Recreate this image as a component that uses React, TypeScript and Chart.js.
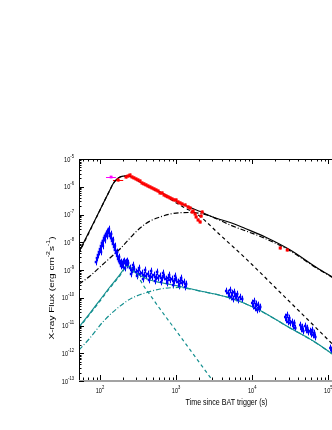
import React, { useEffect, useRef } from "react";
import { Chart, registerables } from "chart.js";
Chart.register(...registerables);

const X_MIN = 53;
const X_MAX = 398000;
const Y_MIN = 1e-13;
const Y_MAX = 1e-5;

const xDecades = [2, 3, 4, 5];
const yDecades = [-5, -6, -7, -8, -9, -10, -11, -12, -13];

// Model curves (time s, flux erg cm^-2 s^-1)
const blackSolidT = [53, 86, 116, 135, 148, 162, 178, 201, 226, 256, 298, 336, 455, 615, 834, 1129, 1528, 2069, 2799, 3793, 5136, 8091, 14830, 31620, 71640, 113000, 403000];
const blackSolidF = [4.46e-9, 6.34e-8, 3.33e-7, 7.64e-7, 1.26e-6, 1.75e-6, 2.15e-6, 2.4e-6, 2.44e-6, 2.29e-6, 1.9e-6, 1.48e-6, 9.8e-7, 6.47e-7, 4.1e-7, 2.6e-7, 1.79e-7, 1.28e-7, 8.8e-8, 6.6e-8, 5.15e-8, 3.13e-8, 1.55e-8, 5.26e-9, 1.18e-9, 5.6e-10, 7.0e-11];

const blackDashT = [53, 86, 116, 135, 148, 162, 178, 201, 226, 256, 298, 336, 455, 615, 834, 1236, 1946, 3793, 8091, 23360, 106300, 403000];
const blackDashF = [4.1e-9, 6.1e-8, 3.3e-7, 7.6e-7, 1.25e-6, 1.74e-6, 2.14e-6, 2.39e-6, 2.42e-6, 2.27e-6, 1.87e-6, 1.44e-6, 9.4e-7, 5.96e-7, 3.62e-7, 1.86e-7, 9.6e-8, 1.82e-8, 2.7e-9, 1.55e-10, 2.54e-12, 6.6e-14];

const blackDotDashT = [53, 74, 100, 135, 183, 248, 336, 455, 615, 834, 1129, 1528, 2069, 2799, 5136, 14830, 31620, 71640, 113000, 403000];
const blackDotDashF = [3.13e-10, 6.1e-10, 1.28e-9, 2.7e-9, 5.7e-9, 1.42e-8, 3.27e-8, 5.83e-8, 8.13e-8, 1.04e-7, 1.16e-7, 1.18e-7, 1.09e-7, 8.8e-8, 4.19e-8, 1.36e-8, 4.84e-9, 1.13e-9, 5.4e-10, 6.8e-11];

const tealSolidT = [53, 74, 100, 135, 173, 201, 220, 226, 241, 264, 298, 368, 455, 615, 834, 1129, 2069, 5136, 11640, 31620, 63510, 113000, 403000];
const tealSolidF = [8.8e-12, 2.82e-11, 8.3e-11, 2.44e-10, 5.6e-10, 1.0e-9, 1.39e-9, 1.45e-9, 1.39e-9, 1.09e-9, 7.8e-10, 5.6e-10, 4.37e-10, 3.55e-10, 3.0e-10, 2.54e-10, 1.75e-10, 9.8e-11, 3.94e-11, 8.1e-12, 2.76e-12, 9.4e-13, 7.2e-14];

const tealDashT = [53, 100, 135, 173, 201, 220, 226, 241, 264, 298, 336, 391, 455, 615, 1030, 1674, 2976, 5136];
const tealDashF = [8.1e-12, 7.6e-11, 2.24e-10, 5.15e-10, 9.2e-10, 1.28e-9, 1.33e-9, 1.28e-9, 1.0e-9, 6.6e-10, 4.37e-10, 2.24e-10, 1.26e-10, 3.94e-11, 5.8e-12, 9.4e-13, 1.09e-13, 1.36e-14];

const tealDotDashT = [53, 74, 109, 183, 264, 391, 615, 1063, 2069, 5136, 11640, 31620, 63510, 113000, 403000];
const tealDotDashF = [1.31e-12, 3.55e-12, 1.34e-11, 5.0e-11, 9.8e-11, 1.48e-10, 2.07e-10, 2.34e-10, 1.73e-10, 9.7e-11, 3.88e-11, 8.0e-12, 2.72e-12, 9.3e-13, 7.1e-14];

// Red data
const redT = [220, 234, 248, 264, 280, 298, 316, 336, 357, 379, 403, 428, 455, 483, 514, 546, 580, 615, 655, 695, 739, 785, 834, 886, 942, 1000, 1063, 1129, 1200, 1313, 1439, 1528, 1624, 1674, 1778, 1833, 1946, 2069, 2133, 2198, 23360, 28880];
const redF = [2.24e-6, 2.44e-6, 2.65e-6, 2.24e-6, 2.07e-6, 1.9e-6, 1.75e-6, 1.61e-6, 1.36e-6, 1.26e-6, 1.16e-6, 1.06e-6, 9.8e-7, 9.0e-7, 8.3e-7, 7.64e-7, 7.0e-7, 5.96e-7, 5.96e-7, 5.05e-7, 4.65e-7, 4.28e-7, 3.94e-7, 3.62e-7, 3.33e-7, 3.33e-7, 2.82e-7, 2.6e-7, 2.39e-7, 2.2e-7, 1.86e-7, 1.71e-7, 1.23e-7, 1.34e-7, 1.04e-7, 8.13e-8, 6.34e-8, 5.37e-8, 8.8e-8, 1.23e-7, 6.21e-9, 5.26e-9];
const redEarlyT = [173];
const redEarlyTLo = [148];
const redEarlyTHi = [202];
const redEarlyF = [1.75e-6];

// Magenta point
const magT = [140];
const magTLo = [120];
const magTHi = [162];
const magF = [2.24e-6];

// Blue data
const blueT = [
  88.6, 91.3, 94.1, 97.0, 100, 103, 106, 109, 113, 116, 120, 124, 127, 131, 135, 140, 144, 148, 153, 157, 162, 168, 173, 178, 183, 189, 195, 201, 207, 213, 220, 226, 234,
  103, 109, 116, 124, 131, 140, 148, 157, 168, 178, 189, 201, 213, 226,
  248, 264, 280, 298, 316, 336, 357, 379, 403, 428, 455, 483, 514, 546, 580, 615, 655, 695, 739, 785, 834, 886, 942, 1000, 1063, 1129, 1200, 1274, 1354,
  256, 307, 368, 441, 529, 635, 762, 914, 1094, 1313,
  272, 326, 391, 469, 562, 674, 809, 970, 1164,
  4550, 4832, 4977, 5136, 5295, 5458, 5623, 5800, 5970, 6155, 6350, 6546, 6950, 7380,
  10000, 10310, 10620, 10940, 11290, 11640, 11990, 12360, 12740,
  27170, 28000, 28880, 29780, 30690, 31620,
  33600, 34590, 35700, 36790,
  42840, 44160, 45520, 46900,
  49800, 51400, 52920, 54600,
  57940, 59700, 61500, 63510, 65400, 67450,
  106300, 109400,
];
const blueF = [
  1.94e-9, 2.7e-9, 3.48e-9, 4.46e-9, 5.7e-9, 7.33e-9, 9.4e-9, 1.11e-8, 1.42e-8, 1.68e-8, 1.98e-8, 2.34e-8, 2.54e-8, 2.15e-8, 1.68e-8, 1.42e-8, 1.11e-8, 8.65e-9, 6.75e-9, 5.26e-9, 4.1e-9, 3.2e-9, 2.49e-9, 2.11e-9, 1.79e-9, 1.94e-9, 1.64e-9, 1.94e-9, 2.11e-9, 1.79e-9, 1.94e-9, 1.51e-9, 1.79e-9,
  4.46e-9, 7.33e-9, 1.2e-8, 1.68e-8, 3.0e-8, 1.98e-8, 1.2e-8, 7.33e-9, 4.46e-9, 2.94e-9, 1.39e-9, 1.28e-9, 1.18e-9, 2.11e-9,
  1.18e-9, 1.0e-9, 1.09e-9, 8.5e-10, 9.2e-10, 7.2e-10, 7.8e-10, 6.6e-10, 6.1e-10, 7.2e-10, 6.1e-10, 5.6e-10, 6.6e-10, 5.6e-10, 5.15e-10, 6.1e-10, 5.15e-10, 5.6e-10, 4.74e-10, 5.15e-10, 4.37e-10, 4.74e-10, 4.02e-10, 4.37e-10, 3.7e-10, 4.02e-10, 3.4e-10, 3.7e-10, 3.13e-10,
  7.2e-10, 6.1e-10, 4.74e-10, 4.37e-10, 4.02e-10, 3.7e-10, 3.4e-10, 2.88e-10, 2.65e-10, 2.44e-10,
  1.51e-9, 1.18e-9, 1.0e-9, 9.2e-10, 8.5e-10, 7.8e-10, 6.6e-10, 6.1e-10, 5.15e-10,
  1.75e-10, 1.48e-10, 1.16e-10, 1.9e-10, 1.06e-10, 1.48e-10, 9.0e-11, 1.61e-10, 1.16e-10, 9.8e-11, 1.36e-10, 8.3e-11, 1.06e-10, 9.0e-11,
  6.5e-11, 5.0e-11, 7.6e-11, 4.28e-11, 6.0e-11, 3.62e-11, 5.5e-11, 3.94e-11, 4.65e-11,
  2.02e-11, 1.58e-11, 2.39e-11, 1.34e-11, 1.86e-11, 1.23e-11,
  1.34e-11, 9.6e-12, 1.23e-11, 8.1e-12,
  1.04e-11, 7.5e-12, 8.8e-12, 6.3e-12,
  9.6e-12, 6.9e-12, 8.1e-12, 5.8e-12,
  6.3e-12, 4.9e-12, 6.9e-12, 4.55e-12, 5.37e-12, 3.85e-12,
  1.55e-12, 1.31e-12,
];
const blueErrFactor = 1.32;
const redErrFactor = 1.12;

const FONT = "'Liberation Sans', Arial, Helvetica, sans-serif";
const TEAL = "#138f8f";
const SX = 0.75; // horizontal squeeze of all text in the reference

const pts = (t: number[], f: number[]) => t.map((x, i) => ({ x, y: f[i] }));

const errorBarPlugin = {
  id: "errorBars",
  beforeDatasetsDraw(chart: any) {
    const { ctx, chartArea: a, scales } = chart;
    const xs = scales.x;
    const ys = scales.y;
    ctx.save();
    ctx.beginPath();
    ctx.rect(a.left, a.top, a.right - a.left, a.bottom - a.top);
    ctx.clip();
    chart.data.datasets.forEach((ds: any) => {
      const e = ds.errorBars;
      if (!e) return;
      ctx.strokeStyle = ds.backgroundColor;
      ctx.lineWidth = 1;
      ds.data.forEach((p: any, i: number) => {
        const px = Math.round(xs.getPixelForValue(p.x)) + 0.5;
        const py = ys.getPixelForValue(p.y);
        ctx.beginPath();
        if (e.yFactor) {
          ctx.moveTo(px, ys.getPixelForValue(p.y * e.yFactor));
          ctx.lineTo(px, ys.getPixelForValue(p.y / e.yFactor));
        }
        if (e.xLo && e.xHi) {
          ctx.moveTo(xs.getPixelForValue(e.xLo[i]), Math.round(py) + 0.5);
          ctx.lineTo(xs.getPixelForValue(e.xHi[i]), Math.round(py) + 0.5);
        }
        ctx.stroke();
      });
    });
    ctx.restore();
  },
};

function squeezedText(ctx: any, text: string, x: number, y: number, font: string, align: string) {
  ctx.save();
  ctx.font = font;
  const w = ctx.measureText(text).width * SX;
  let left = x;
  if (align === "center") left = x - w / 2;
  else if (align === "right") left = x - w;
  ctx.translate(left, y);
  ctx.scale(SX, 1);
  ctx.textAlign = "left";
  ctx.fillText(text, 0, 0);
  ctx.restore();
  return w;
}

function widthOf(ctx: any, text: string, font: string) {
  ctx.save();
  ctx.font = font;
  const w = ctx.measureText(text).width * SX;
  ctx.restore();
  return w;
}

const axisPlugin = {
  id: "axisFrame",
  afterDraw(chart: any) {
    const { ctx, chartArea: a, scales } = chart;
    const xs = scales.x;
    const ys = scales.y;
    ctx.save();
    // frame
    ctx.strokeStyle = "#000";
    ctx.lineWidth = 1;
    ctx.beginPath();
    ctx.moveTo(a.left + 0.5, a.bottom);
    ctx.lineTo(a.left + 0.5, a.top + 0.5);
    ctx.lineTo(a.right - 0.5, a.top + 0.5);
    ctx.lineTo(a.right - 0.5, a.bottom);
    ctx.stroke();
    ctx.strokeStyle = "#a3a3a3";
    ctx.lineWidth = 2;
    ctx.beginPath();
    ctx.moveTo(a.left, a.bottom);
    ctx.lineTo(a.right, a.bottom);
    ctx.stroke();

    // x ticks
    ctx.strokeStyle = "#000";
    ctx.lineWidth = 1;
    for (let d = 1; d <= 5; d++) {
      for (let m = 1; m <= 9; m++) {
        const v = m * Math.pow(10, d);
        if (v < X_MIN || v > X_MAX) continue;
        const px = Math.round(xs.getPixelForValue(v)) + 0.5;
        const len = m === 1 ? 5 : 2.5;
        ctx.beginPath();
        ctx.moveTo(px, a.bottom - 1);
        ctx.lineTo(px, a.bottom - 1 - len);
        ctx.moveTo(px, a.top);
        ctx.lineTo(px, a.top + len);
        ctx.stroke();
      }
    }
    // y ticks
    for (let d = -13; d <= -5; d++) {
      for (let m = 1; m <= 9; m++) {
        const v = m * Math.pow(10, d);
        if (v < Y_MIN * 0.999 || v > Y_MAX * 1.001) continue;
        const py = Math.round(ys.getPixelForValue(v)) + 0.5;
        const len = m === 1 ? 5 : 2.5;
        ctx.beginPath();
        ctx.moveTo(a.left, py);
        ctx.lineTo(a.left + len, py);
        ctx.moveTo(a.right, py);
        ctx.lineTo(a.right - len, py);
        ctx.stroke();
      }
    }

    // tick labels
    ctx.fillStyle = "#000";
    ctx.textBaseline = "middle";
    const baseFont = `7.5px ${FONT}`;
    const supFont = `5.5px ${FONT}`;
    yDecades.forEach((e) => {
      const py = ys.getPixelForValue(Math.pow(10, e));
      const exp = String(e);
      const ew = widthOf(ctx, exp, supFont);
      const right = 74;
      squeezedText(ctx, "10", right - ew, py + 0.5, baseFont, "right");
      squeezedText(ctx, exp, right - ew, py - 3, supFont, "left");
    });
    xDecades.forEach((e) => {
      const px = xs.getPixelForValue(Math.pow(10, e));
      const exp = String(e);
      const ew = widthOf(ctx, exp, supFont);
      const bw = widthOf(ctx, "10", baseFont);
      const start = px - (bw + ew) / 2;
      squeezedText(ctx, "10", start, 391, baseFont, "left");
      squeezedText(ctx, exp, start + bw, 387.5, supFont, "left");
    });

    // axis titles
    ctx.textBaseline = "alphabetic";
    squeezedText(ctx, "Time since BAT trigger (s)", (a.left + 374) / 2, 405, `9.5px ${FONT}`, "center");

    const segs: [string, boolean][] = [
      ["X-ray Flux (erg cm", false],
      ["-2", true],
      ["s", false],
      ["-1", true],
      [")", false],
    ];
    const mainF = `10px ${FONT}`;
    const supF = `7px ${FONT}`;
    let total = 0;
    segs.forEach(([t, s]) => {
      ctx.font = s ? supF : mainF;
      total += ctx.measureText(t).width;
    });
    ctx.save();
    ctx.translate(53.5, 288 + total / 2);
    ctx.scale(SX, 1);
    ctx.rotate(-Math.PI / 2);
    ctx.textAlign = "left";
    let x = 0;
    segs.forEach(([t, s]) => {
      ctx.font = s ? supF : mainF;
      ctx.fillText(t, x, s ? -5 : 0);
      x += ctx.measureText(t).width;
    });
    ctx.restore();
    ctx.restore();
  },
};

export default function App() {
  const ref = useRef<HTMLCanvasElement | null>(null);
  useEffect(() => {
    if (!ref.current) return;
    const curve = (label: string, t: number[], f: number[], color: string, dash: number[]) => ({
      label,
      data: pts(t, f),
      showLine: true,
      borderColor: color,
      backgroundColor: color,
      borderWidth: 1.2,
      borderDash: dash,
      pointRadius: 0,
      cubicInterpolationMode: "monotone",
    });
    const chart = new Chart(ref.current, {
      type: "scatter",
      data: {
        datasets: [
          {
            label: "magenta",
            data: pts(magT, magF),
            backgroundColor: "#ff00ff",
            borderColor: "#ff00ff",
            pointStyle: "rect",
            pointRadius: 2,
            pointBorderWidth: 0,
            errorBars: { xLo: magTLo, xHi: magTHi, yFactor: 1.08 },
          } as any,
          {
            label: "red early",
            data: pts(redEarlyT, redEarlyF),
            backgroundColor: "#ff0000",
            borderColor: "#ff0000",
            pointStyle: "rect",
            pointRadius: 2.2,
            pointBorderWidth: 0,
            errorBars: { xLo: redEarlyTLo, xHi: redEarlyTHi, yFactor: redErrFactor },
          } as any,
          {
            label: "red",
            data: pts(redT, redF),
            backgroundColor: "#ff0000",
            borderColor: "#ff0000",
            pointStyle: "rect",
            pointRadius: 2.2,
            pointBorderWidth: 0,
            errorBars: { yFactor: redErrFactor },
          } as any,
          {
            label: "blue",
            data: pts(blueT, blueF),
            backgroundColor: "#0000ff",
            borderColor: "#0000ff",
            pointStyle: "rect",
            pointRadius: 1.8,
            pointBorderWidth: 0,
            errorBars: { yFactor: blueErrFactor },
          } as any,
          curve("black total", blackSolidT, blackSolidF, "#000000", []),
          curve("black steep", blackDashT, blackDashF, "#000000", [3.5, 3]),
          curve("black shallow", blackDotDashT, blackDotDashF, "#000000", [5, 2, 1, 2]),
          curve("teal total", tealSolidT, tealSolidF, TEAL, []),
          curve("teal steep", tealDashT, tealDashF, TEAL, [3.5, 3]),
          curve("teal shallow", tealDotDashT, tealDotDashF, TEAL, [5, 2, 1, 2]),
        ] as any,
      },
      options: {
        responsive: false,
        devicePixelRatio: 1,
        animation: false,
        events: [],
        layout: { padding: { left: 79, top: 159, right: 16, bottom: 49 } },
        plugins: { legend: { display: false }, tooltip: { enabled: false } },
        scales: {
          x: { type: "logarithmic", min: X_MIN, max: X_MAX, display: false },
          y: { type: "logarithmic", min: Y_MIN, max: Y_MAX, display: false },
        },
      } as any,
      plugins: [errorBarPlugin, axisPlugin],
    });
    return () => chart.destroy();
  }, []);

  return (
    <div
      style={{
        position: "fixed",
        left: 0,
        top: 0,
        width: 332,
        height: 430,
        overflow: "hidden",
        background: "#ffffff",
      }}
    >
      <canvas ref={ref} width={390} height={430} style={{ display: "block" }} />
    </div>
  );
}
